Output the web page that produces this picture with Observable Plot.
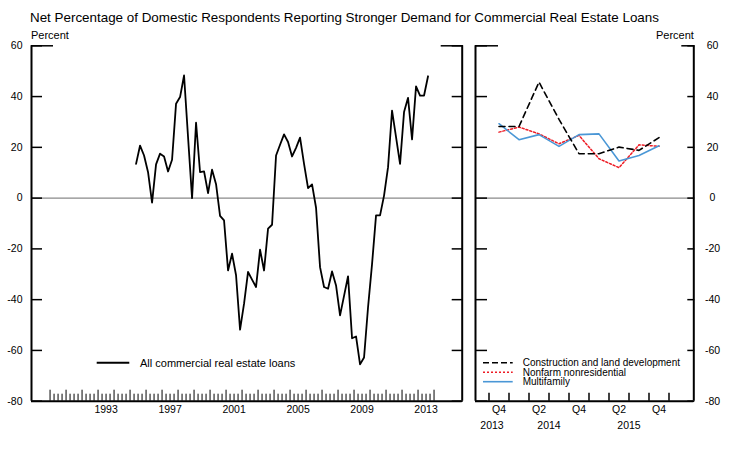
<!DOCTYPE html>
<html><head><meta charset="utf-8">
<script src="https://cdn.jsdelivr.net/npm/d3@7"></script>
<script src="https://cdn.jsdelivr.net/npm/@observablehq/plot@0.6"></script>
<style>
body{margin:0;background:#fff;font-family:"Liberation Sans",Arial,sans-serif;}
#wrap{position:relative;width:733px;height:452px;overflow:hidden;background:#fff;}
.abs{position:absolute;white-space:nowrap;color:#000;line-height:1;}
#wrap svg{position:absolute;top:0;}
</style></head><body>
<div id="wrap">
  <div class="abs" style="left:30px;top:11px;font-size:13.4px;">Net Percentage of Domestic Respondents Reporting Stronger Demand for Commercial Real Estate Loans</div>
  <div class="abs" style="left:31px;top:30px;font-size:11px;">Percent</div>
  <div class="abs" style="left:656px;top:30px;font-size:11px;">Percent</div>
</div>
<script>
// ---- data ----
const allCreStart = "1995Q2";
const allCreValues = [
  13.5, 20.7, 16.8,
  10.2, -1.8, 13.3, 17.5,
  16.4, 10.5, 15.1, 37.2,
  39.8, 48.3, 24.0, 0.0,
  29.7, 10.2, 10.5, 2.0,
  11.2, 5.5, -7.0, -8.8,
  -28.5, -21.9, -30.4, -51.8,
  -41.6, -29.1, -32.1, -35.0,
  -20.3, -28.5, -12.0, -10.5,
  16.8, 21.0, 25.1, 22.1,
  16.4, 19.8, 23.8, 13.5,
  3.9, 5.4, -3.8, -27.2,
  -35.0, -35.7, -28.9, -34.4,
  -46.2, -38.5, -30.8, -55.2,
  -54.5, -65.5, -62.8, -43.0,
  -26.0, -6.8, -6.8, 1.0,
  12.2, 34.5, 24.0, 13.5,
  33.9, 39.5, 23.1, 44.0,
  40.4, 40.4, 48.0
];
const rightQuarters = ["2013Q4","2014Q1","2014Q2","2014Q3","2014Q4","2015Q1","2015Q2","2015Q3","2015Q4"];
const construction = [28.2, 28.2, 45.7, 31.0, 17.5, 17.5, 20.1, 18.8, 23.8];
const nonfarm      = [26.0, 28.0, 25.3, 21.4, 24.7, 15.5, 12.0, 21.0, 20.4];
const multifamily  = [29.3, 23.0, 25.0, 20.4, 25.0, 25.3, 14.6, 16.8, 20.6];
const leftYearLabels = [1993, 1997, 2001, 2005, 2009, 2013];
const rightYearLabels = ["2013", "2014", "2015"];
const rightYearLabelPos = [-0.35, 2.5, 6.5];
const yTicks = [60, 40, 20, 0, -20, -40, -60, -80];
const seriesNames = ["Construction and land development", "Nonfarm nonresidential", "Multifamily"];
const leftSeriesName = "All commercial real estate loans";

// ---- derived tables ----
const startYear = +allCreStart.slice(0, 4), startQ = +allCreStart.slice(5);
const leftData = allCreValues.map((v, i) => {
  const q = startQ - 1 + i;
  return {t: startYear + Math.floor(q / 4) + ((q % 4) + 0.5) / 4, v};
});
const rightData = [construction, nonfarm, multifamily].map((arr, s) =>
  arr.map((v, i) => ({i, v, s: seriesNames[s]})));

const font = "Liberation Sans, Arial, sans-serif";
const yDomain = [-80, 60];
const xLeftDomain = [1988.84, 2015.76];
const xRightDomain = [-1.175, 9.74];

const common = {
  height: 452, marginTop: 45.3, marginBottom: 51.3,
  style: {fontSize: "10.5px", fontFamily: font, background: "transparent", overflow: "visible", color: "#000"}
};

const quarterTicks = d3.range(1990, 2014.001, 0.25).filter(d => d % 1 !== 0);
const yearTicks = d3.range(1990, 2015, 1);

const left = Plot.plot({
  ...common,
  width: 470, marginLeft: 31, marginRight: 8.3,
  x: {domain: xLeftDomain},
  y: {domain: yDomain},
  marks: [
    Plot.ruleY([0], {stroke: "#8a8a8a", strokeWidth: 1.2}),
    Plot.axisY({anchor: "left", ticks: yTicks, tickSize: -11, tickPadding: 20, label: null, strokeWidth: 1.5, tickFormat: d => d}),
    Plot.axisY({anchor: "left", ticks: [60], tickSize: -22, text: null, label: null, strokeWidth: 1.5}),
    Plot.axisY({anchor: "right", ticks: yTicks, tickSize: -11, text: null, label: null, strokeWidth: 1.5}),
    Plot.axisY({anchor: "right", ticks: [60], tickSize: -22, text: null, label: null, strokeWidth: 1.5}),
    Plot.axisX({anchor: "bottom", ticks: quarterTicks, tickSize: -7, text: null, label: null}),
    Plot.axisX({anchor: "bottom", ticks: yearTicks, tickSize: -11, text: null, label: null}),
    Plot.axisX({anchor: "bottom", ticks: leftYearLabels.map(y => y + 0.5), tickSize: 0, tickPadding: 4, label: null, tickFormat: d => String(Math.floor(d))}),
    Plot.ruleX(xLeftDomain, {stroke: "#000", strokeWidth: 2}),
    Plot.ruleY([yDomain[0]], {stroke: "#000", strokeWidth: 2}),
    Plot.line(leftData, {x: "t", y: "v", stroke: "#000", strokeWidth: 1.8})
  ]
});
left.style.left = "0px";

const rightTickPos = d3.range(-0.5, 8.51, 1);
const right = Plot.plot({
  ...common,
  width: 267, marginLeft: 9, marginRight: 39.7,
  x: {domain: xRightDomain},
  y: {domain: yDomain},
  marks: [
    Plot.ruleY([0], {stroke: "#8a8a8a", strokeWidth: 1.2}),
    Plot.axisY({anchor: "left", ticks: yTicks, tickSize: -12, text: null, label: null, strokeWidth: 1.5}),
    Plot.axisY({anchor: "left", ticks: [60], tickSize: -23, text: null, label: null, strokeWidth: 1.5}),
    Plot.axisY({anchor: "right", ticks: yTicks, tickSize: -7, tickPadding: 25.7, textAnchor: "middle", label: null, strokeWidth: 1.5, tickFormat: d => d}),
    Plot.axisY({anchor: "right", ticks: [60], tickSize: -13, text: null, label: null, strokeWidth: 1.5}),
    Plot.axisX({anchor: "bottom", ticks: rightTickPos, tickSize: -8, text: null, label: null, strokeWidth: 1.5}),
    Plot.axisX({anchor: "bottom", ticks: [0, 2, 4, 6, 8], tickSize: 0, tickPadding: 4, label: null, tickFormat: d => rightQuarters[d].slice(4)}),
    Plot.axisX({anchor: "bottom", ticks: rightYearLabelPos, tickSize: 0, tickPadding: 20, label: null, tickFormat: d => rightYearLabels[rightYearLabelPos.indexOf(d)]}),
    Plot.ruleX(xRightDomain, {stroke: "#000", strokeWidth: 2}),
    Plot.ruleY([yDomain[0]], {stroke: "#000", strokeWidth: 2}),
    Plot.line(rightData[1], {x: "i", y: "v", stroke: "#ee1c25", strokeWidth: 1.5, strokeDasharray: "2,2"}),
    Plot.line(rightData[2], {x: "i", y: "v", stroke: "#4a97d6", strokeWidth: 1.6}),
    Plot.line(rightData[0], {x: "i", y: "v", stroke: "#000", strokeWidth: 1.6, strokeDasharray: "6,4"})
  ]
});
right.style.left = "466px";

const wrap = document.getElementById("wrap");
wrap.appendChild(left);
wrap.appendChild(right);

// legends
const ns = "http://www.w3.org/2000/svg";
const leg = document.createElementNS(ns, "svg");
leg.setAttribute("width", 733); leg.setAttribute("height", 452);
leg.style.position = "absolute"; leg.style.left = "0"; leg.style.top = "0";
leg.style.fontFamily = font;
function addLine(x1, x2, y, stroke, dash, w) {
  const l = document.createElementNS(ns, "line");
  l.setAttribute("x1", x1); l.setAttribute("x2", x2); l.setAttribute("y1", y); l.setAttribute("y2", y);
  l.setAttribute("stroke", stroke); l.setAttribute("stroke-width", w);
  if (dash) l.setAttribute("stroke-dasharray", dash);
  leg.appendChild(l);
}
function addText(x, y, s, size) {
  const t = document.createElementNS(ns, "text");
  t.setAttribute("x", x); t.setAttribute("y", y); t.setAttribute("font-size", size);
  t.setAttribute("dominant-baseline", "central");
  t.textContent = s; leg.appendChild(t);
}
addLine(96.7, 129.3, 362.7, "#000", null, 2);
addText(140, 362.7, leftSeriesName, 11);
const legStyles = [["#000", "6,3", 1.6], ["#ee1c25", "2,2", 1.5], ["#4a97d6", null, 1.6]];
seriesNames.forEach((n, k) => {
  const y = 362.7 + k * 9.5;
  addLine(483, 512.7, y, legStyles[k][0], legStyles[k][1], legStyles[k][2]);
  addText(522.7, y, n, 10);
});
wrap.appendChild(leg);
</script>
</body></html>
